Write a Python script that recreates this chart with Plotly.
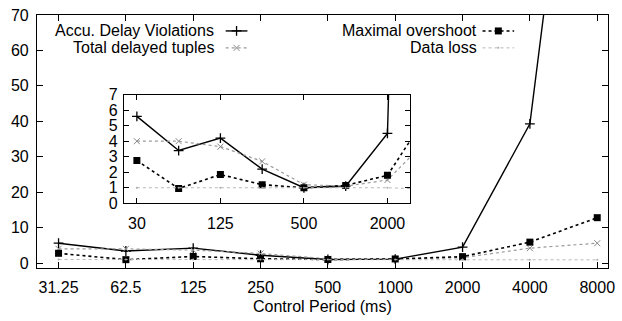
import math
import plotly.graph_objects as go

periods = [31.25, 62.5, 125, 250, 500, 1000, 2000, 4000, 8000]
tick_labels = ["31.25", "62.5", "125", "250", "500", "1000", "2000", "4000", "8000"]
accu_delay = [5.6, 3.4, 4.2, 2.2, 1.0, 1.1, 4.5, 39.3, 190]
total_delayed = [4.0, 4.0, 3.65, 2.7, 1.2, 1.1, 1.5, 4.2, 5.6]
max_overshoot = [2.75, 0.95, 1.85, 1.2, 1.0, 1.15, 1.8, 5.9, 12.8]
data_loss = [1.0, 1.0, 1.0, 1.0, 1.0, 1.0, 1.0, 0.9, 0.9]

inset_tickvals = [31.25, 125, 500, 2000]
inset_ticklabels = ["30", "125", "500", "2000"]

FONT = "Liberation Sans, Arial, sans-serif"
FS = 16
W, H = 622, 321
ML, MR, MT, MB = 37, 7, 14, 53
PW, PH = W - ML - MR, H - MT - MB


def px(x):
    return (x - ML) / PW


def py(y):
    return (H - MB - y) / PH


series = [
    ("Accu. Delay Violations", accu_delay, dict(color="black", width=1.4, dash="solid"),
     dict(symbol="cross-thin", size=7, line=dict(color="black", width=1.3))),
    ("Total delayed tuples", total_delayed, dict(color="#9a9a9a", width=1.2, dash="dot"),
     dict(symbol="x-thin", size=6, line=dict(color="#888", width=1))),
    ("Maximal overshoot", max_overshoot, dict(color="black", width=1.6, dash="dot"),
     dict(symbol="square", size=7, color="black")),
    ("Data loss", data_loss, dict(color="#b8b8b8", width=1.0, dash="dot"),
     dict(symbol="circle", size=2, color="#aaa")),
]

fig = go.Figure()

for name, vals, ln, mk in series:
    fig.add_trace(go.Scatter(x=periods, y=vals, mode="lines+markers", name=name,
                             line=ln, marker=mk, showlegend=False, cliponaxis=True,
                             xaxis="x", yaxis="y"))
for name, vals, ln, mk in series:
    fig.add_trace(go.Scatter(x=periods, y=vals, mode="lines+markers", name=name,
                             line=ln, marker=mk, showlegend=False, cliponaxis=True,
                             xaxis="x2", yaxis="y2"))

# legend keys on an overlay axis spanning the plot area
leg = [
    (0, 228, 250, 30), (1, 228, 250, 47), (2, 488, 520, 30), (3, 488, 520, 47),
]
for idx, x0, x1, yy in leg:
    name, vals, ln, mk = series[idx]
    fig.add_trace(go.Scatter(x=[px(x0), px(x1)], y=[py(yy), py(yy)], mode="lines",
                             line=ln, showlegend=False, xaxis="x3", yaxis="y3", hoverinfo="skip"))
    fig.add_trace(go.Scatter(x=[px((x0 + x1) / 2)], y=[py(yy)], mode="markers",
                             marker=mk, showlegend=False, xaxis="x3", yaxis="y3", hoverinfo="skip"))

legend_text = [("Accu. Delay Violations", 218, 30), ("Total delayed tuples", 218, 47),
               ("Maximal overshoot", 484, 30), ("Data loss", 484, 47)]
annotations = []
for t, x, y in legend_text:
    annotations.append(dict(text=t, x=px(x), y=py(y), xref="paper", yref="paper",
                            xanchor="right", yanchor="middle", showarrow=False,
                            font=dict(family=FONT, size=FS, color="black")))
annotations.append(dict(text="Control Period (ms)", x=px(326), y=py(307), xref="paper", yref="paper",
                        xanchor="center", yanchor="middle", showarrow=False,
                        font=dict(family=FONT, size=FS, color="black")))

lo = math.log10(31.25) - 0.32 * math.log10(2)
hi = math.log10(8000) + 0.16 * math.log10(2)
ilo = math.log10(31.25) - 0.31 * math.log10(2)
ihi = math.log10(2000) + 0.55 * math.log10(2)

ix0, ix1 = px(125), px(415)
iy0, iy1 = py(203), py(94)

axis_common = dict(showgrid=False, zeroline=False, showline=True, linecolor="black",
                   linewidth=1.2, ticks="inside", mirror="ticks", tickcolor="black",
                   tickfont=dict(family=FONT, size=FS, color="black"))

fig.update_layout(
    width=W, height=H, margin=dict(l=ML, r=MR, t=MT, b=MB),
    plot_bgcolor="white", paper_bgcolor="white",
    xaxis=dict(type="log", range=[lo, hi], tickvals=periods, ticktext=tick_labels,
               ticklen=6, ticklabelstandoff=5, **axis_common),
    yaxis=dict(range=[-1.4, 70], tickvals=list(range(0, 71, 10)), ticklen=6,
               ticklabelstandoff=4, **axis_common),
    xaxis2=dict(type="log", range=[ilo, ihi], tickvals=inset_tickvals, ticktext=inset_ticklabels,
                domain=[ix0, ix1], anchor="y2", ticklen=5, ticklabelstandoff=5, **axis_common),
    yaxis2=dict(range=[0, 7], tickvals=list(range(0, 8)), domain=[iy0, iy1], anchor="x2",
                ticklen=5, ticklabelstandoff=2, **axis_common),
    xaxis3=dict(range=[0, 1], domain=[0, 1], visible=False, anchor="y3", overlaying="x"),
    yaxis3=dict(range=[0, 1], domain=[0, 1], visible=False, anchor="x3", overlaying="y"),
    annotations=annotations,
    shapes=[dict(type="rect", xref="paper", yref="paper", x0=ix0, x1=ix1, y0=iy0, y1=iy1,
                 fillcolor="white", line=dict(width=0), layer="below")],
    showlegend=False,
)

fig.write_html("out.html")
